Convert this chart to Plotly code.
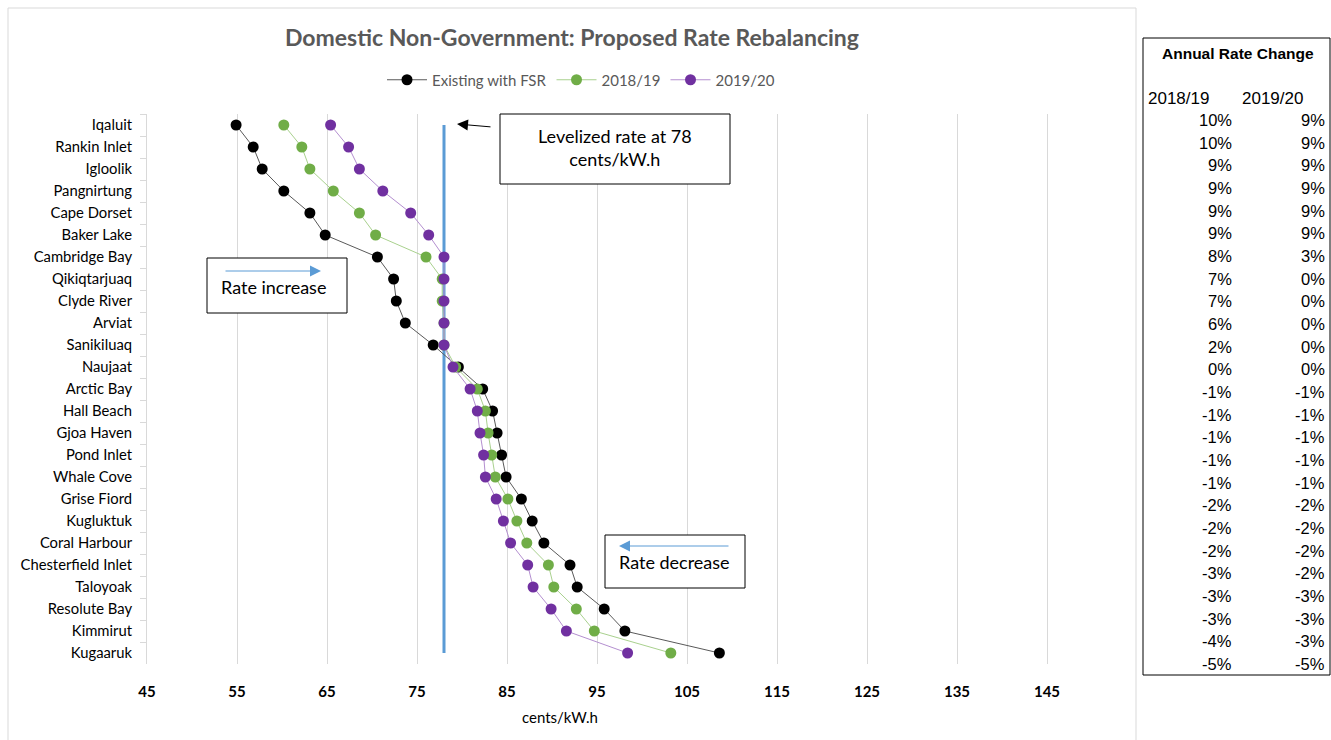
import plotly.graph_objects as go

# Communities, ordered from lowest to highest existing rate
communities = [
    "Iqaluit", "Rankin Inlet", "Igloolik", "Pangnirtung", "Cape Dorset",
    "Baker Lake", "Cambridge Bay", "Qikiqtarjuaq", "Clyde River", "Arviat",
    "Sanikiluaq", "Naujaat", "Arctic Bay", "Hall Beach", "Gjoa Haven",
    "Pond Inlet", "Whale Cove", "Grise Fiord", "Kugluktuk", "Coral Harbour",
    "Chesterfield Inlet", "Taloyoak", "Resolute Bay", "Kimmirut", "Kugaaruk",
]

# Rates in cents/kW.h
existing_fsr = [54.9, 56.8, 57.8, 60.2, 63.1, 64.8, 70.6, 72.4, 72.7, 73.7,
                76.8, 79.6, 82.3, 83.4, 83.9, 84.4, 84.9, 86.6, 87.8, 89.1,
                92.0, 92.8, 95.8, 98.1, 108.6]
rate_2018_19 = [60.2, 62.2, 63.1, 65.7, 68.6, 70.4, 76.0, 77.8, 77.8, 78.0,
                78.0, 79.3, 81.7, 82.6, 82.9, 83.3, 83.7, 85.1, 86.1, 87.2,
                89.6, 90.2, 92.7, 94.7, 103.2]
rate_2019_20 = [65.4, 67.4, 68.6, 71.2, 74.3, 76.3, 78.0, 78.0, 78.0, 78.0,
                78.0, 79.0, 80.9, 81.7, 82.0, 82.4, 82.6, 83.8, 84.6, 85.4,
                87.3, 87.9, 89.9, 91.6, 98.4]

levelized_rate = 78

# Annual rate change table
change_2018_19 = ["10%", "10%", "9%", "9%", "9%", "9%", "8%", "7%", "7%", "6%",
                  "2%", "0%", "-1%", "-1%", "-1%", "-1%", "-1%", "-2%", "-2%",
                  "-2%", "-3%", "-3%", "-3%", "-4%", "-5%"]
change_2019_20 = ["9%", "9%", "9%", "9%", "9%", "9%", "3%", "0%", "0%", "0%",
                  "0%", "0%", "-1%", "-1%", "-1%", "-1%", "-1%", "-2%", "-2%",
                  "-2%", "-2%", "-3%", "-3%", "-3%", "-5%"]

x_ticks = [45, 55, 65, 75, 85, 95, 105, 115, 125, 135, 145]

W, H = 1331, 740
L, R, T, B = 147, 1092, 114, 664  # plot area in pixels

def px(x):
    return (x - L) / (R - L)

def py(y):
    return (B - y) / (B - T)

CAL = "Lato, 'Open Sans', sans-serif"
ARIAL = "'Liberation Sans', Arial, sans-serif"

fig = go.Figure()

# Levelized rate line
fig.add_trace(go.Scatter(
    x=[levelized_rate, levelized_rate], y=[communities[0], communities[-1]],
    mode="lines", line=dict(color="#5b9bd5", width=3), showlegend=False,
    hoverinfo="skip",
))

series = [
    ("Existing with FSR", existing_fsr, "#000000", "#595959"),
    ("2018/19", rate_2018_19, "#70ad47", "#a9d18e"),
    ("2019/20", rate_2019_20, "#7030a0", "#b48fd0"),
]
for name, vals, mcol, lcol in series:
    fig.add_trace(go.Scatter(
        x=vals, y=communities, name=name, mode="lines+markers",
        line=dict(color=lcol, width=1),
        marker=dict(color=mcol, size=11),
    ))

fig.update_layout(
    width=W, height=H,
    margin=dict(l=L, r=W - R, t=T, b=H - B),
    paper_bgcolor="white", plot_bgcolor="white",
    font=dict(family=CAL, color="#000000"),
    title=dict(
        text="<b>Domestic Non-Government: Proposed Rate Rebalancing</b>",
        x=572 / W, xanchor="center", xref="container",
        y=1 - 38 / H, yanchor="middle", yref="container",
        font=dict(family=CAL, size=23, color="#595959"),
    ),
    legend=dict(
        orientation="h", x=px(581), xanchor="center", y=py(80), yanchor="middle",
        font=dict(family=CAL, size=15, color="#595959"),
        bgcolor="rgba(0,0,0,0)", itemwidth=40, tracegroupgap=0,
    ),
    showlegend=True,
    xaxis=dict(
        range=[45, 150], tickvals=x_ticks, ticktext=[str(v) for v in x_ticks],
        showgrid=True, gridcolor="#d9d9d9", gridwidth=1,
        showline=False, zeroline=False, ticks="outside", ticklen=0,
        ticklabelstandoff=14,
        tickfont=dict(family=CAL, size=15, color="#000000", weight="bold"),
    ),
    yaxis=dict(
        type="category", categoryarray=communities, categoryorder="array",
        range=[len(communities) - 0.5, -0.5],
        showgrid=False, zeroline=False,
        showline=True, linecolor="#d9d9d9", linewidth=1,
        ticks="outside", tickson="boundaries", ticklen=6, tickcolor="#d9d9d9",
        tickfont=dict(family=CAL, size=14.8, color="#000000"),
        ticklabelstandoff=11,
    ),
)

shapes = []
annotations = []

# Chart frame
shapes.append(dict(type="rect", xref="paper", yref="paper",
                   x0=px(8), x1=px(1136), y0=py(760), y1=py(8),
                   line=dict(color="#d9d9d9", width=1), fillcolor="rgba(0,0,0,0)",
                   layer="below"))

# x-axis title
annotations.append(dict(xref="paper", yref="paper", x=px(560), y=py(717),
                        text="cents/kW.h", showarrow=False,
                        font=dict(family=CAL, size=15, color="#000000"),
                        xanchor="center", yanchor="middle"))

# Callout boxes
for x0, x1, y0, y1 in [(500, 730, 114, 184), (207, 347, 258, 313), (605, 745, 535, 588)]:
    shapes.append(dict(type="rect", xref="paper", yref="paper",
                       x0=px(x0), x1=px(x1), y0=py(y1), y1=py(y0),
                       line=dict(color="#000000", width=1), fillcolor="white"))

annotations.append(dict(xref="paper", yref="paper", x=px(615), y=py(148),
                        text="Levelized rate at 78<br>cents/kW.h", showarrow=False,
                        font=dict(family=CAL, size=18, color="#000000"),
                        xanchor="center", yanchor="middle", align="center"))
annotations.append(dict(xref="paper", yref="paper", x=px(457), y=py(124),
                        ax=492 - 457, ay=127 - 124, text="", showarrow=True,
                        arrowhead=2, arrowsize=2.2, arrowwidth=1, arrowcolor="#000000"))

annotations.append(dict(xref="paper", yref="paper", x=px(273), y=py(287),
                        text="Rate increase", showarrow=False,
                        font=dict(family=CAL, size=18, color="#000000"),
                        xanchor="center", yanchor="middle"))
annotations.append(dict(xref="paper", yref="paper", x=px(321), y=py(271),
                        ax=224 - 321, ay=0, text="", showarrow=True,
                        arrowhead=2, arrowsize=2.2, arrowwidth=1, arrowcolor="#5b9bd5"))

annotations.append(dict(xref="paper", yref="paper", x=px(674), y=py(562),
                        text="Rate decrease", showarrow=False,
                        font=dict(family=CAL, size=18, color="#000000"),
                        xanchor="center", yanchor="middle"))
annotations.append(dict(xref="paper", yref="paper", x=px(619), y=py(546),
                        ax=730 - 619, ay=0, text="", showarrow=True,
                        arrowhead=2, arrowsize=2.2, arrowwidth=1, arrowcolor="#5b9bd5"))

# Annual rate change table
shapes.append(dict(type="rect", xref="paper", yref="paper",
                   x0=px(1143), x1=px(1330), y0=py(675), y1=py(38),
                   line=dict(color="#000000", width=1), fillcolor="white"))
annotations.append(dict(xref="paper", yref="paper", x=px(1238), y=py(53),
                        text="<b>Annual Rate Change</b>", showarrow=False,
                        font=dict(family=ARIAL, size=15.5, color="#000000"),
                        xanchor="center", yanchor="middle"))
annotations.append(dict(xref="paper", yref="paper", x=px(1146), y=py(98),
                        text="2018/19", showarrow=False,
                        font=dict(family=ARIAL, size=17, color="#000000"),
                        xanchor="left", yanchor="middle"))
annotations.append(dict(xref="paper", yref="paper", x=px(1240), y=py(98),
                        text="2019/20", showarrow=False,
                        font=dict(family=ARIAL, size=17, color="#000000"),
                        xanchor="left", yanchor="middle"))
row0, step = 120, (664 - 120) / 24
for i, (a, b) in enumerate(zip(change_2018_19, change_2019_20)):
    yy = py(row0 + i * step)
    annotations.append(dict(xref="paper", yref="paper", x=px(1234), y=yy, text=a,
                            showarrow=False, xanchor="right", yanchor="middle",
                            font=dict(family=ARIAL, size=16.5, color="#000000")))
    annotations.append(dict(xref="paper", yref="paper", x=px(1327), y=yy, text=b,
                            showarrow=False, xanchor="right", yanchor="middle",
                            font=dict(family=ARIAL, size=16.5, color="#000000")))

fig.update_layout(shapes=shapes, annotations=annotations)

fig.write_html("out.html")
